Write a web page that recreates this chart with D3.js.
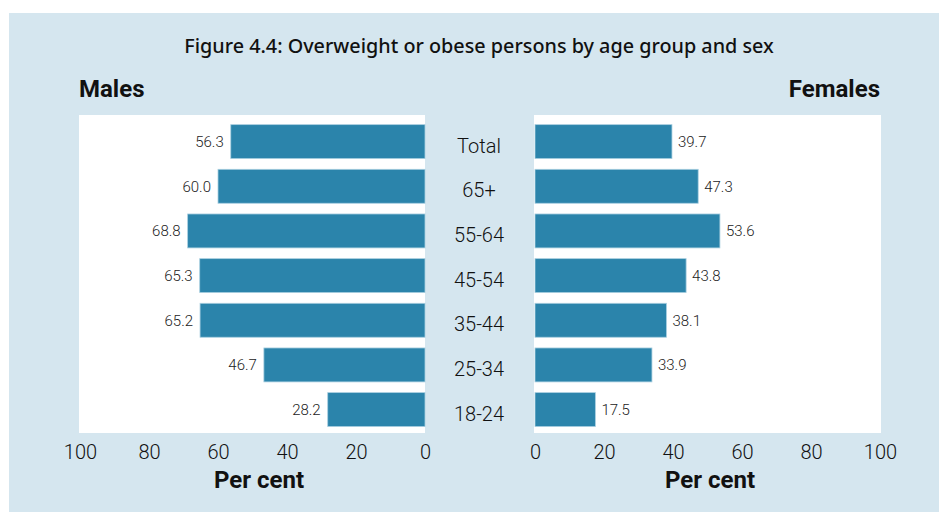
<!DOCTYPE html>
<html><head><meta charset="utf-8">
<script src="https://cdn.jsdelivr.net/npm/d3@7"></script>
<style>
html,body{margin:0;padding:0;background:#fff;}
svg{display:block;}
text{font-family:Roboto,"Noto Sans",sans-serif;}
</style></head>
<body>
<svg id="chart" width="939" height="512"></svg>
<script>
const categories = ["Total","65+","55-64","45-54","35-44","25-34","18-24"];
const males = [56.3,60.0,68.8,65.3,65.2,46.7,28.2];
const females = [39.7,47.3,53.6,43.8,38.1,33.9,17.5];
const tickValues = [0,20,40,60,80,100];
const title = "Figure 4.4: Overweight or obese persons by age group and sex";

(function(){
const svg = d3.select("#chart");
const barColor = "#2b84ab";
const panel = "#d5e6ef";

svg.append("rect").attr("x",9).attr("y",13).attr("width",930).attr("height",499).attr("fill",panel);

const plotTop = 115, plotBottom = 433;
const y = d3.scaleBand().domain(categories).range([plotTop,plotBottom]).paddingInner(0.24).paddingOuter(0.18).align(0.6);
const xL = d3.scaleLinear().domain([0,100]).range([425,80]);
const xR = d3.scaleLinear().domain([0,100]).range([535,880]);

svg.append("rect").attr("x",79).attr("y",plotTop).attr("width",425-79).attr("height",plotBottom-plotTop).attr("fill","#fff");
svg.append("rect").attr("x",534).attr("y",plotTop).attr("width",881-534).attr("height",plotBottom-plotTop).attr("fill","#fff");

svg.append("text").attr("x",479).attr("y",53).attr("text-anchor","middle")
  .style("font-family","'Noto Sans',sans-serif").style("font-size","19.8px").style("font-weight","500").attr("fill","#111").text(title);
svg.append("text").attr("x",79).attr("y",97).style("font-size","24px").style("font-weight","700").attr("fill","#111").text("Males");
svg.append("text").attr("x",880).attr("y",97).attr("text-anchor","end").style("font-size","24px").style("font-weight","700").attr("fill","#111").text("Females");

svg.append("g").selectAll("rect").data(categories).join("rect")
  .attr("x",(d,i)=>xL(males[i])).attr("y",d=>y(d)).attr("width",(d,i)=>xL(0)-xL(males[i])).attr("height",y.bandwidth())
  .attr("fill",barColor).attr("stroke","#a9cfe0").attr("stroke-width",0.8);
svg.append("g").selectAll("text").data(categories).join("text")
  .attr("x",(d,i)=>xL(males[i])-7).attr("y",d=>y(d)+y.bandwidth()/2).attr("dy","0.35em").attr("text-anchor","end")
  .style("font-size","15px").style("font-weight","300").attr("fill","#222").text((d,i)=>males[i].toFixed(1));

svg.append("g").selectAll("rect").data(categories).join("rect")
  .attr("x",xR(0)).attr("y",d=>y(d)).attr("width",(d,i)=>xR(females[i])-xR(0)).attr("height",y.bandwidth())
  .attr("fill",barColor).attr("stroke","#a9cfe0").attr("stroke-width",0.8);
svg.append("g").selectAll("text").data(categories).join("text")
  .attr("x",(d,i)=>xR(females[i])+6).attr("y",d=>y(d)+y.bandwidth()/2).attr("dy","0.35em")
  .style("font-size","15px").style("font-weight","300").attr("fill","#222").text((d,i)=>females[i].toFixed(1));

svg.append("g").selectAll("text").data(categories).join("text")
  .attr("x",479).attr("y",d=>y(d)+y.bandwidth()/2+4).attr("dy","0.35em").attr("text-anchor","middle")
  .style("font-size","20px").style("font-weight","300").attr("fill","#111").text(d=>d);

const axL = svg.append("g").attr("transform",`translate(0,${plotBottom})`)
  .call(d3.axisBottom(xL).tickValues(tickValues).tickSize(0).tickPadding(12));
const axR = svg.append("g").attr("transform",`translate(0,${plotBottom})`)
  .call(d3.axisBottom(xR).tickValues(tickValues).tickSize(0).tickPadding(12));
[axL,axR].forEach(a=>{
  a.select(".domain").remove();
  a.selectAll("text").style("font-family","Roboto,sans-serif").style("font-size","20px").style("font-weight","300").attr("fill","#111");
});

svg.append("text").attr("x",259).attr("y",488).attr("text-anchor","middle").style("font-size","24px").style("font-weight","700").attr("fill","#111").text("Per cent");
svg.append("text").attr("x",710).attr("y",488).attr("text-anchor","middle").style("font-size","24px").style("font-weight","700").attr("fill","#111").text("Per cent");
})();
</script>
</body></html>
